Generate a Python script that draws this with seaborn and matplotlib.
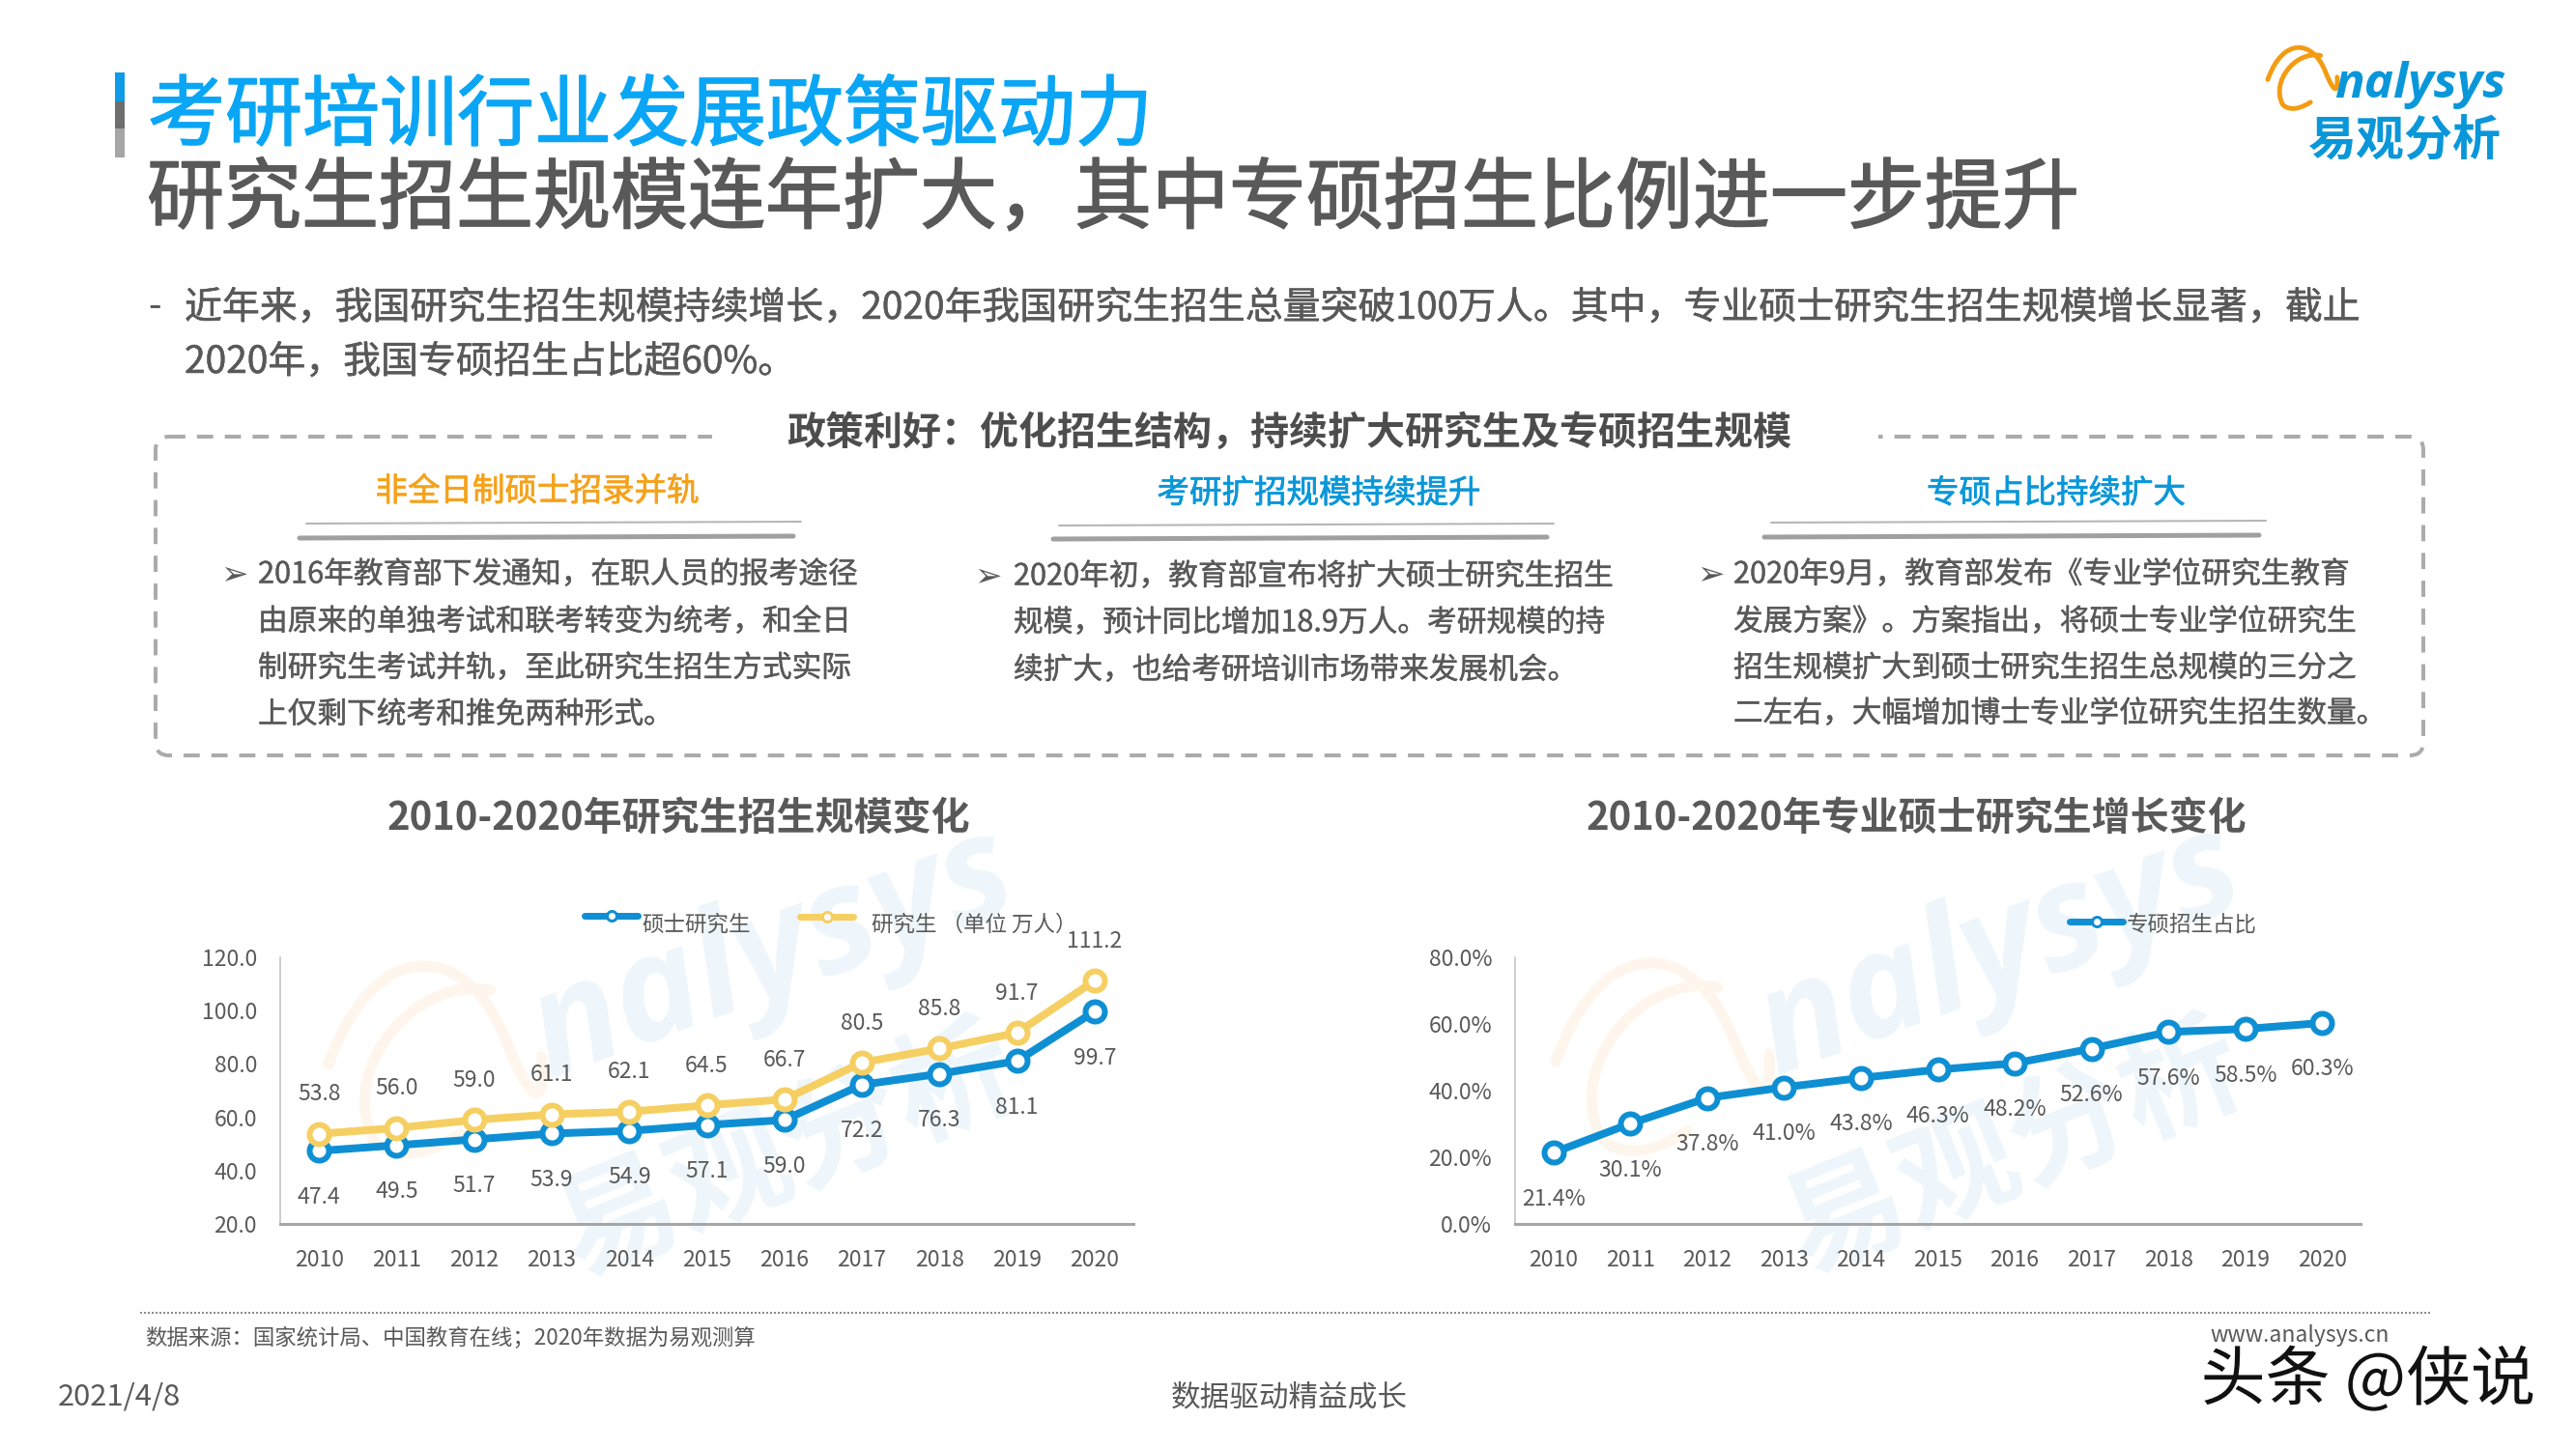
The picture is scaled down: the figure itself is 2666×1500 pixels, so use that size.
import matplotlib
matplotlib.use('Agg')
import matplotlib.pyplot as plt
import pandas as pd
import seaborn as sns
from matplotlib.lines import Line2D
from matplotlib.patches import FancyBboxPatch, PathPatch, Rectangle
from matplotlib.path import Path
import matplotlib.patheffects as pe

W, H = 2666, 1500

years = ['2010', '2011', '2012', '2013', '2014', '2015', '2016', '2017', '2018', '2019', '2020']
master = [47.4, 49.5, 51.7, 53.9, 54.9, 57.1, 59.0, 72.2, 76.3, 81.1, 99.7]
graduate = [53.8, 56.0, 59.0, 61.1, 62.1, 64.5, 66.7, 80.5, 85.8, 91.7, 111.2]
prof_share = [21.4, 30.1, 37.8, 41.0, 43.8, 46.3, 48.2, 52.6, 57.6, 58.5, 60.3]

left_ticks = [20, 40, 60, 80, 100, 120]
right_ticks = [0, 20, 40, 60, 80]

title_top = '考研培训行业发展政策驱动力'
title_sub = '研究生招生规模连年扩大，其中专硕招生比例进一步提升'
intro = ['近年来，我国研究生招生规模持续增长，2020年我国研究生招生总量突破100万人。其中，专业硕士研究生招生规模增长显著，截止',
         '2020年，我国专硕招生占比超60%。']
policy_title = '政策利好：优化招生结构，持续扩大研究生及专硕招生规模'
col_heads = ['非全日制硕士招录并轨', '考研扩招规模持续提升', '专硕占比持续扩大']
col1 = ['2016年教育部下发通知，在职人员的报考途径',
        '由原来的单独考试和联考转变为统考，和全日',
        '制研究生考试并轨，至此研究生招生方式实际',
        '上仅剩下统考和推免两种形式。']
col2 = ['2020年初，教育部宣布将扩大硕士研究生招生',
        '规模，预计同比增加18.9万人。考研规模的持',
        '续扩大，也给考研培训市场带来发展机会。']
col3 = ['2020年9月，教育部发布《专业学位研究生教育',
        '发展方案》。方案指出，将硕士专业学位研究生',
        '招生规模扩大到硕士研究生招生总规模的三分之',
        '二左右，大幅增加博士专业学位研究生招生数量。']

BLUE = '#0F8FD3'
YELLOW = '#F6CF62'
GREY = '#595959'
AXIS = '#A6A6A6'
WM_BLUE = '#EEF6FB'
WM_ORANGE = '#FEF6EC'

sns.set_theme(style='white')
plt.rcParams['font.family'] = ['Noto Sans CJK SC', 'DejaVu Sans']

fig = plt.figure(figsize=(W / 100, H / 100), dpi=100)

# slide coordinates in pixels, y going down
bg = fig.add_axes([0, 0, 1, 1], zorder=0)
bg.set_xlim(0, W)
bg.set_ylim(H, 0)
bg.axis('off')
front = fig.add_axes([0, 0, 1, 1], zorder=3)
front.set_xlim(0, W)
front.set_ylim(H, 0)
front.axis('off')


def px(size):
    return size * 72 / 100


def put(x, y, s, size, color=GREY, ha='left', weight='normal', axes=None, heavy=0, **kw):
    t = (axes or front).text(x, y, s, fontsize=px(size), color=color, ha=ha, va='center',
                             fontweight=weight, **kw)
    if heavy:
        t.set_path_effects([pe.withStroke(linewidth=px(heavy), foreground=color)])
    return t


def swoosh(ax, dx, dy, scale, color, lw):
    # the two loops of the logo
    pts1 = [(0, 70), (30, -15), (90, -10), (115, 55), (135, 105), (140, 90), (138, 65)]
    pts2 = [(105, 22), (55, 12), (5, 75), (30, 120), (45, 135), (70, 125), (85, 115)]
    for pts in (pts1, pts2):
        verts = [(dx + a * scale, dy + b * scale) for a, b in pts]
        codes = [Path.MOVETO] + [Path.CURVE4] * 6
        ax.add_patch(PathPatch(Path(verts, codes), fc='none', ec=color, lw=lw, capstyle='round'))


def watermark(dx, dy):
    swoosh(bg, 340 + dx, 990 + dy, 1.6, WM_ORANGE, 8)
    put(800 + dx, 990 + dy, 'nalysys', 150, WM_BLUE, ha='center', axes=bg, rotation=20,
        rotation_mode='anchor', family=['Open Sans'], style='italic', weight='bold')
    put(815 + dx, 1195 + dy, '易观分析', 125, WM_BLUE, ha='center', axes=bg, rotation=22,
        rotation_mode='anchor', weight='bold')


watermark(0, 0)
watermark(1270, -3)

# header
for top, bot, c in [(75, 105, '#0F9BE8'), (105, 133, '#6E6E6E'), (133, 163, '#A6A6A6')]:
    front.add_patch(Rectangle((119, top), 10, bot - top, fc=c, ec='none'))
put(153, 121, title_top, 80, '#0AA6F5', weight='medium', heavy=1.5)
put(152, 207, title_sub, 80, GREY, weight='medium', heavy=1.5)

swoosh(front, 2347, 46, 0.52, '#F39C12', 3.5)
put(2416, 88, 'nalysys', 51, '#0A97D9', family=['Open Sans'], style='italic', weight='bold')
put(2489, 147, '易观分析', 50, '#0A97D9', ha='center', weight='bold')

put(153, 318, '-', 39)
put(191, 319, intro[0], 38.9, heavy=0.5)
put(191, 375, intro[1], 38.9, heavy=0.5)

# dashed policy box, hidden behind the white title strip
box = FancyBboxPatch((161, 452), 2347, 330, boxstyle='round,pad=0,rounding_size=14',
                     fc='none', ec='#ABABAB', lw=px(4), linestyle=(0, (4.2, 3)))
bg.add_patch(box)
bg.add_patch(Rectangle((737, 440), 1207, 24, fc='white', ec='none'))
put(1334, 448, policy_title, 40, '#4D4D4D', ha='center', weight='bold')

heads = [(556, 509, '#F5A21B'), (1365, 511, '#0A97D9'), (2128, 511, '#0A97D9')]
for (x, y, c), s in zip(heads, col_heads):
    put(x, y, s, 33.5, c, ha='center', weight='medium', heavy=0.7)

rules = [(317, 829, 541, 310, 821, 556), (1096, 1608, 543, 1090, 1601, 557), (1833, 2345, 540, 1826, 2338, 555)]
for x0, x1, y0, x2, x3, y1 in rules:
    front.add_line(Line2D([x0, x1], [y0 + 1, y0 - 1], color='#B5B5B5', lw=px(2)))
    front.add_line(Line2D([x2, x3], [y1 + 1, y1 - 1], color='#A0A0A0', lw=px(5)))

columns = [(242, 267, col1, [595, 644, 692, 740]),
           (1022, 1049, col2, [597, 645, 694]),
           (1770, 1794, col3, [595, 644, 692, 739])]
for bx, tx, lines, ys in columns:
    put(bx, ys[0], '➢', 34, GREY, ha='center', family=['DejaVu Sans'])
    for s, y in zip(lines, ys):
        put(tx, y, s, 30.7, heavy=0.4)

put(702, 847, '2010-2020年研究生招生规模变化', 40, GREY, ha='center', weight='bold')
put(1983, 847, '2010-2020年专业硕士研究生增长变化', 40, GREY, ha='center', weight='bold')


def make_axes(x0, x1, top, bottom):
    ax = fig.add_axes([x0 / W, 1 - bottom / H, (x1 - x0) / W, (bottom - top) / H], zorder=2)
    ax.patch.set_alpha(0)
    return ax


def draw_line(ax, values, color):
    df = pd.DataFrame({'year': years, 'value': values})
    sns.lineplot(data=df, x='year', y='value', ax=ax, color=color, linewidth=px(8), marker='o',
                 markersize=px(20), markerfacecolor='white', markeredgecolor=color,
                 markeredgewidth=px(6), sort=False, errorbar=None, legend=False, clip_on=False)


def finish_axes(ax, ticks, fmt):
    ax.set_xlim(-0.5, 10.5)
    ax.set_ylim(ticks[0], ticks[-1])
    ax.set_yticks(ticks)
    ax.set_yticklabels([fmt.format(t) for t in ticks])
    ax.set_xlabel('')
    ax.set_ylabel('')
    for s in ('top', 'right'):
        ax.spines[s].set_visible(False)
    ax.spines['left'].set_color('#BFBFBF')
    ax.spines['left'].set_linewidth(px(1.5))
    ax.spines['bottom'].set_color(AXIS)
    ax.spines['bottom'].set_linewidth(px(3))
    ax.tick_params(axis='both', length=0, labelsize=px(23), labelcolor=GREY)
    ax.tick_params(axis='x', pad=px(26))
    ax.tick_params(axis='y', pad=px(24))


def labels(ax, values, off, fmt):
    for i, v in enumerate(values):
        ax.annotate(fmt.format(v), (i, v), xytext=(0, px(off)), textcoords='offset points',
                    ha='center', va='center', fontsize=px(23), color=GREY, annotation_clip=False)


ax1 = make_axes(290, 1173, 991, 1267)
draw_line(ax1, master, BLUE)
draw_line(ax1, graduate, YELLOW)
finish_axes(ax1, left_ticks, '{:.1f}')
labels(ax1, master, -48, '{:.1f}')
labels(ax1, graduate, 41, '{:.1f}')

ax2 = make_axes(1568, 2443, 991, 1267)
draw_line(ax2, prof_share, BLUE)
finish_axes(ax2, right_ticks, '{:.1f}%')
labels(ax2, prof_share, -48, '{:.1f}%')


def legend_key(x0, x1, y, color):
    front.add_line(Line2D([x0, x1], [y, y], color=color, lw=px(7), solid_capstyle='round'))
    front.add_line(Line2D([(x0 + x1) / 2], [y], marker='o', ms=px(10), mfc='white', mec=color,
                          mew=px(3), ls='none'))


legend_key(605, 660, 948, BLUE)
put(664, 957, '硕士研究生', 22.5)
legend_key(828, 883, 949, YELLOW)
put(902, 957, '研究生 （单位 万人）', 22.5)
legend_key(2142, 2197, 954, BLUE)
put(2201, 957, '专硕招生占比', 22.5)

# footer
front.add_line(Line2D([145, 2517], [1359, 1359], color='#8C8C8C', lw=px(2), linestyle=(0, (1, 1))))
put(150, 1386, '数据来源：国家统计局、中国教育在线；2020年数据为易观测算', 22.4)
put(2473, 1382, 'www.analysys.cn', 23, ha='right')
put(60, 1446, '2021/4/8', 31)
put(1334, 1447, '数据驱动精益成长', 30.6, ha='center')
mark = put(2624, 1430, '头条 @侠说', 67, '#111111', ha='right', weight='medium')
mark.set_path_effects([pe.withStroke(linewidth=px(5), foreground='white')])

fig.savefig('out.png', dpi=100, facecolor='white')
